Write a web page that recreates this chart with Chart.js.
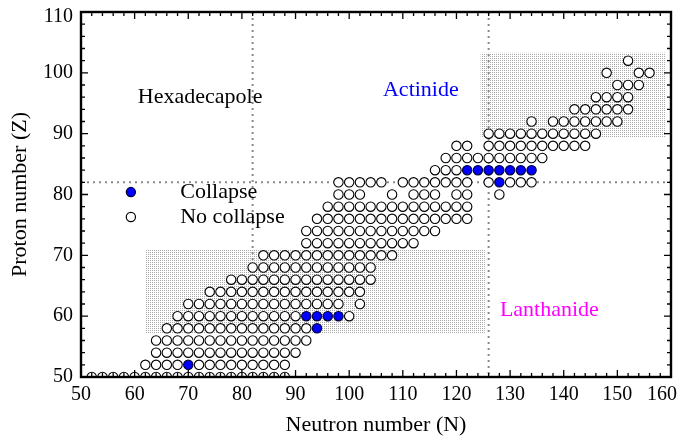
<!DOCTYPE html>
<html>
<head>
<meta charset="utf-8">
<script src="https://cdn.jsdelivr.net/npm/chart.js@4.4.0/dist/chart.umd.min.js"></script>
<style>
  html, body { margin: 0; padding: 0; background: #fff; }
  #chart { display: block; }
</style>
</head>
<body>
<canvas id="chart" width="680" height="439"></canvas>
<script>
// proton number of each row of nuclei
const rowZ = [50, 52, 54, 56, 58, 60, 62, 64, 66, 68, 70, 72, 74, 76, 78, 80, 82, 84, 86, 88, 90, 92, 94, 96, 98, 100, 102];

// neutron numbers of nuclei that do not collapse, one list per row above
const noCollapseN = [
  [52, 54, 56, 58, 60, 62, 64, 66, 68, 70, 72, 74, 76, 78, 80, 82, 84, 86, 88],
  [62, 64, 66, 68, 72, 74, 76, 78, 80, 82, 84, 86, 88],
  [64, 66, 68, 70, 72, 74, 76, 78, 80, 82, 84, 86, 88, 90],
  [64, 66, 68, 70, 72, 74, 76, 78, 80, 82, 84, 86, 88, 90, 92],
  [66, 68, 70, 72, 74, 76, 78, 80, 82, 84, 86, 88, 90, 92],
  [68, 70, 72, 74, 76, 78, 80, 82, 84, 86, 88, 90, 100],
  [70, 72, 74, 76, 78, 80, 82, 84, 86, 88, 90, 92, 94, 96, 98, 102],
  [74, 76, 78, 80, 82, 84, 86, 88, 90, 92, 94, 96, 98, 100, 102],
  [78, 80, 82, 84, 86, 88, 90, 92, 94, 96, 98, 100, 102, 104],
  [82, 84, 86, 88, 90, 92, 94, 96, 98, 100, 102, 104],
  [84, 86, 88, 90, 92, 94, 96, 98, 100, 102, 104, 106, 108],
  [92, 94, 96, 98, 100, 102, 104, 106, 108, 110, 112],
  [92, 94, 96, 98, 100, 102, 104, 106, 108, 110, 112, 114, 116],
  [94, 96, 98, 100, 102, 104, 106, 108, 110, 112, 114, 116, 118, 120, 122],
  [96, 98, 100, 102, 104, 106, 108, 110, 112, 114, 116, 118, 120, 122],
  [98, 100, 102, 108, 112, 114, 116, 120, 122, 128],
  [98, 100, 102, 104, 106, 110, 112, 114, 116, 118, 120, 122, 126, 130, 132, 134],
  [116, 118, 120],
  [118, 120, 122, 124, 126, 128, 130, 132, 134, 136],
  [120, 122, 126, 128, 130, 132, 134, 136, 138, 140, 142, 144],
  [126, 128, 130, 132, 134, 136, 138, 140, 142, 144, 146],
  [134, 138, 140, 142, 144, 146, 148, 150],
  [142, 144, 146, 148, 150, 152],
  [146, 148, 150, 152],
  [150, 152, 154],
  [148, 154, 156],
  [152]
];

// nuclei that collapse
const collapseN = [70, 94, 92, 94, 96, 98, 128, 122, 124, 126, 128, 130, 132, 134];
const collapseZ = [52, 58, 60, 60, 60, 60, 82, 84, 84, 84, 84, 84, 84, 84];

const xTicks = [50, 60, 70, 80, 90, 100, 110, 120, 130, 140, 150, 160];
const yTicks = [50, 60, 70, 80, 90, 100, 110];

// magic numbers marked with dotted lines
const magicN = [82, 126];
const magicZ = [82];

const serif = "'Liberation Serif', 'Times New Roman', serif";

const openPoints = [];
rowZ.forEach((z, i) => noCollapseN[i].forEach(n => openPoints.push({ x: n, y: z })));
const collapsePoints = collapseN.map((n, i) => ({ x: n, y: collapseZ[i] }));

// fine dotted fill for the deformed regions
const patternCanvas = document.createElement('canvas');
patternCanvas.width = 2;
patternCanvas.height = 2;
const pctx = patternCanvas.getContext('2d');
pctx.fillStyle = '#a9a9a9';
pctx.fillRect(0, 0, 1, 1);

const decor = {
  id: 'decor',
  beforeDatasetsDraw(chart) {
    const { ctx, chartArea: a, scales: { x, y } } = chart;
    ctx.save();
    ctx.fillStyle = ctx.createPattern(patternCanvas, 'repeat');
    const boxes = [[62, 125.3, 57.2, 70.9], [124.5, 159, 89.3, 103.3]];
    boxes.forEach(([n0, n1, z0, z1]) => {
      const px0 = x.getPixelForValue(n0), px1 = x.getPixelForValue(n1);
      const py0 = y.getPixelForValue(z1), py1 = y.getPixelForValue(z0);
      ctx.fillRect(px0, py0, px1 - px0, py1 - py0);
    });

    ctx.strokeStyle = '#8a8a8a';
    ctx.lineWidth = 2;
    ctx.setLineDash([2, 4]);
    magicN.forEach(n => {
      const px = x.getPixelForValue(n);
      ctx.beginPath();
      ctx.moveTo(px, a.top);
      ctx.lineTo(px, a.bottom);
      ctx.stroke();
    });
    magicZ.forEach(z => {
      const py = y.getPixelForValue(z);
      ctx.beginPath();
      ctx.moveTo(a.left, py);
      ctx.lineTo(a.right, py);
      ctx.stroke();
    });
    ctx.restore();
  },
  afterDatasetsDraw(chart) {
    const { ctx, chartArea: a, scales: { x, y } } = chart;
    ctx.save();
    // frame with inward ticks on all four sides
    ctx.strokeStyle = '#000';
    ctx.lineWidth = 1.3;
    for (let n = 50; n <= 160; n += 2) {
      const px = x.getPixelForValue(n);
      const len = n % 10 === 0 ? 7 : 4;
      ctx.beginPath();
      ctx.moveTo(px, a.bottom); ctx.lineTo(px, a.bottom - len);
      ctx.moveTo(px, a.top); ctx.lineTo(px, a.top + len);
      ctx.stroke();
    }
    for (let z = 50; z <= 110; z += 2) {
      const py = y.getPixelForValue(z);
      const len = z % 10 === 0 ? 7 : 4;
      ctx.beginPath();
      ctx.moveTo(a.left, py); ctx.lineTo(a.left + len, py);
      ctx.moveTo(a.right, py); ctx.lineTo(a.right - len, py);
      ctx.stroke();
    }
    ctx.lineWidth = 2.4;
    ctx.strokeRect(a.left, a.top, a.right - a.left, a.bottom - a.top);

    // tick labels, the outermost ones kept inside the canvas
    ctx.fillStyle = '#000';
    ctx.font = '20px ' + serif;
    ctx.textBaseline = 'middle';
    ctx.textAlign = 'center';
    xTicks.forEach(v => {
      const label = String(v);
      const w = ctx.measureText(label).width;
      const cx = Math.min(x.getPixelForValue(v), chart.width - 3 - w / 2);
      ctx.fillText(label, cx, a.bottom + 18);
    });
    ctx.textAlign = 'right';
    yTicks.forEach(v => {
      const cy = Math.max(y.getPixelForValue(v), 17);
      ctx.fillText(String(v), a.left - 8, cy);
    });

    // region labels
    ctx.font = '22px ' + serif;
    ctx.textAlign = 'left';
    ctx.fillText('Hexadecapole', x.getPixelForValue(60.6), y.getPixelForValue(96));
    ctx.fillStyle = '#0000ff';
    ctx.fillText('Actinide', x.getPixelForValue(106.3), y.getPixelForValue(97.2));
    ctx.fillStyle = '#ff00ff';
    ctx.fillText('Lanthanide', x.getPixelForValue(128.1), y.getPixelForValue(61));

    // legend
    const lx = x.getPixelForValue(59.3), tx = x.getPixelForValue(68.5);
    const ly1 = y.getPixelForValue(80.4), ly2 = y.getPixelForValue(76.3);
    ctx.lineWidth = 1.2;
    ctx.beginPath(); ctx.arc(lx, ly1, 4.6, 0, Math.PI * 2);
    ctx.fillStyle = '#0000ff'; ctx.fill(); ctx.strokeStyle = '#000033'; ctx.stroke();
    ctx.beginPath(); ctx.arc(lx, ly2, 4.6, 0, Math.PI * 2);
    ctx.fillStyle = '#fff'; ctx.fill(); ctx.strokeStyle = '#000'; ctx.stroke();
    ctx.fillStyle = '#000';
    ctx.fillText('Collapse', tx, ly1);
    ctx.fillText('No collapse', tx, ly2);
    ctx.restore();
  }
};

new Chart(document.getElementById('chart'), {
  type: 'scatter',
  data: {
    datasets: [{
      label: 'No collapse',
      data: openPoints,
      pointRadius: 4.7,
      pointBorderWidth: 1.1,
      pointBackgroundColor: '#fff',
      pointBorderColor: '#000',
      clip: 0
    }, {
      label: 'Collapse',
      data: collapsePoints,
      pointRadius: 4.7,
      pointBorderWidth: 1.1,
      pointBackgroundColor: '#0000ff',
      pointBorderColor: '#000033',
      clip: 0
    }]
  },
  options: {
    responsive: false,
    animation: false,
    devicePixelRatio: 1,
    layout: { padding: { left: 0, top: 12, right: 9, bottom: 0 } },
    plugins: { legend: { display: false }, tooltip: { enabled: false } },
    scales: {
      x: {
        type: 'linear',
        min: 50,
        max: 160,
        ticks: { display: false },
        grid: { display: false, drawTicks: false },
        border: { display: false },
        title: { display: true, text: 'Neutron number (N)', color: '#000', font: { family: serif, size: 22 }, padding: { top: 0, bottom: 1 } },
        afterFit: s => { s.height = 62; s.paddingLeft = 0; s.paddingRight = 0; }
      },
      y: {
        type: 'linear',
        min: 50,
        max: 110,
        ticks: { display: false },
        grid: { display: false, drawTicks: false },
        border: { display: false },
        title: { display: true, text: 'Proton number (Z)', color: '#000', font: { family: serif, size: 22 }, padding: { top: 7, bottom: 0 } },
        afterFit: s => { s.width = 81; s.paddingTop = 0; s.paddingBottom = 0; }
      }
    }
  },
  plugins: [decor]
});
</script>
</body>
</html>
